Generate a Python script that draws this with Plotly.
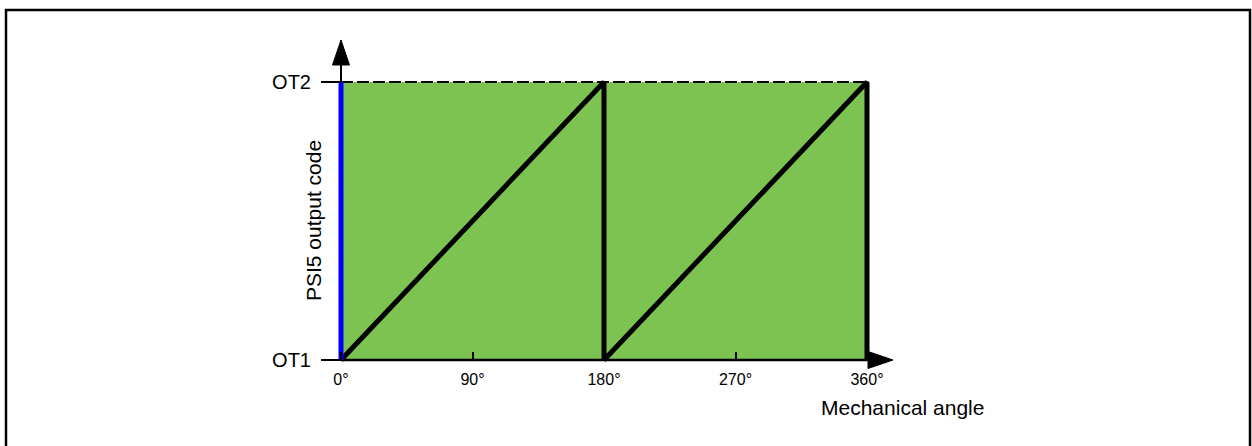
import plotly.graph_objects as go

# data
angle_ticks = [0, 90, 180, 270, 360]
angle_labels = ['0°', '90°', '180°', '270°', '360°']
code_ticks = [0, 1]
code_labels = ['OT1', 'OT2']
angle_range = [0, 360]
code_range = [0, 1]
saw_angle = [0, 180, 180, 360, 360]
saw_code = [0, 1, 0, 1, 0]

# page geometry (pixels)
W, H = 1252, 446
L, R, T, B = 300, 920, 30, 400
X0_PX, X1_PX = 341, 867
Y0_PX, Y1_PX = 360, 82
FONT = 'Arial, Liberation Sans, sans-serif'
GREEN = '#7DC352'


def px_to_x(px):
    return angle_range[0] + (px - X0_PX) * (angle_range[1] - angle_range[0]) / (X1_PX - X0_PX)


def px_to_y(py):
    return code_range[0] + (Y0_PX - py) * (code_range[1] - code_range[0]) / (Y0_PX - Y1_PX)


def paper_x(px):
    return (px - L) / (R - L)


def paper_y(py):
    return (B - py) / (B - T)


a0, a1 = angle_range
c0, c1 = code_range

fig = go.Figure()

# green area
fig.add_trace(go.Scatter(
    x=[a0, a1, a1, a0, a0], y=[c0, c0, c1, c1, c0],
    mode='lines', fill='toself', fillcolor=GREEN,
    line=dict(width=0), hoverinfo='skip'
))

# axis lines
fig.add_trace(go.Scatter(
    x=[a0, px_to_x(868)], y=[c0, c0], mode='lines',
    line=dict(color='black', width=2.5), hoverinfo='skip'
))
fig.add_trace(go.Scatter(
    x=[a0, a0], y=[c0, px_to_y(64)], mode='lines',
    line=dict(color='black', width=2), hoverinfo='skip'
))

# arrow heads
fig.add_trace(go.Scatter(
    x=[px_to_x(X0_PX - 8.5), px_to_x(X0_PX + 8.5), a0, px_to_x(X0_PX - 8.5)],
    y=[px_to_y(65), px_to_y(65), px_to_y(40), px_to_y(65)],
    mode='lines', fill='toself', fillcolor='black',
    line=dict(color='black', width=1), hoverinfo='skip'
))
fig.add_trace(go.Scatter(
    x=[px_to_x(868), px_to_x(868), px_to_x(893), px_to_x(868)],
    y=[px_to_y(Y0_PX - 8.5), px_to_y(Y0_PX + 8.5), c0, px_to_y(Y0_PX - 8.5)],
    mode='lines', fill='toself', fillcolor='black',
    line=dict(color='black', width=1), hoverinfo='skip'
))

# dashed top limit
fig.add_trace(go.Scatter(
    x=[a0, a1], y=[c1, c1], mode='lines',
    line=dict(color='black', width=2, dash='12px,4px'), hoverinfo='skip'
))

# sawtooth output
fig.add_trace(go.Scatter(
    x=saw_angle, y=saw_code, mode='lines',
    line=dict(color='black', width=5), hoverinfo='skip'
))

# blue edge at 0°
fig.add_trace(go.Scatter(
    x=[a0, a0], y=[c0, c1], mode='lines',
    line=dict(color='#0000FF', width=5), hoverinfo='skip'
))

fig.update_layout(
    width=W, height=H,
    margin=dict(l=L, r=W - R, t=T, b=H - B),
    paper_bgcolor='white', plot_bgcolor='white',
    showlegend=False,
    font=dict(family=FONT, color='black'),
    xaxis=dict(
        range=[px_to_x(L), px_to_x(R)],
        anchor='free', position=paper_y(Y0_PX),
        tickvals=angle_ticks, ticktext=angle_labels,
        ticks='inside', ticklen=8, tickwidth=1.5, tickcolor='black',
        tickfont=dict(size=16), ticklabelstandoff=8,
        showgrid=False, zeroline=False, showline=False,
    ),
    yaxis=dict(
        range=[px_to_y(B), px_to_y(T)],
        anchor='free', position=paper_x(X0_PX),
        tickvals=code_ticks, ticktext=code_labels,
        ticks='outside', ticklen=20, tickwidth=1.5, tickcolor='black',
        tickfont=dict(size=20), ticklabelstandoff=6,
        showgrid=False, zeroline=False, showline=False,
    ),
    annotations=[
        dict(text='PSI5 output code', textangle=-90,
             x=paper_x(313), y=paper_y(221), xref='paper', yref='paper',
             xanchor='center', yanchor='middle', showarrow=False,
             font=dict(size=21)),
        dict(text='Mechanical angle',
             x=paper_x(819), y=paper_y(407), xref='paper', yref='paper',
             xanchor='left', yanchor='middle', showarrow=False,
             font=dict(size=21)),
    ],
    shapes=[
        dict(type='rect', xref='paper', yref='paper',
             x0=paper_x(6), x1=paper_x(1250), y0=paper_y(470), y1=paper_y(10),
             line=dict(color='black', width=2.5), fillcolor='rgba(0,0,0,0)',
             layer='above'),
    ],
)

# page body has a default 8px margin; drop it so the figure sits at 0,0
fig.write_html("out.html", config={'displayModeBar': False},
               post_script="document.body.style.margin='0';")
